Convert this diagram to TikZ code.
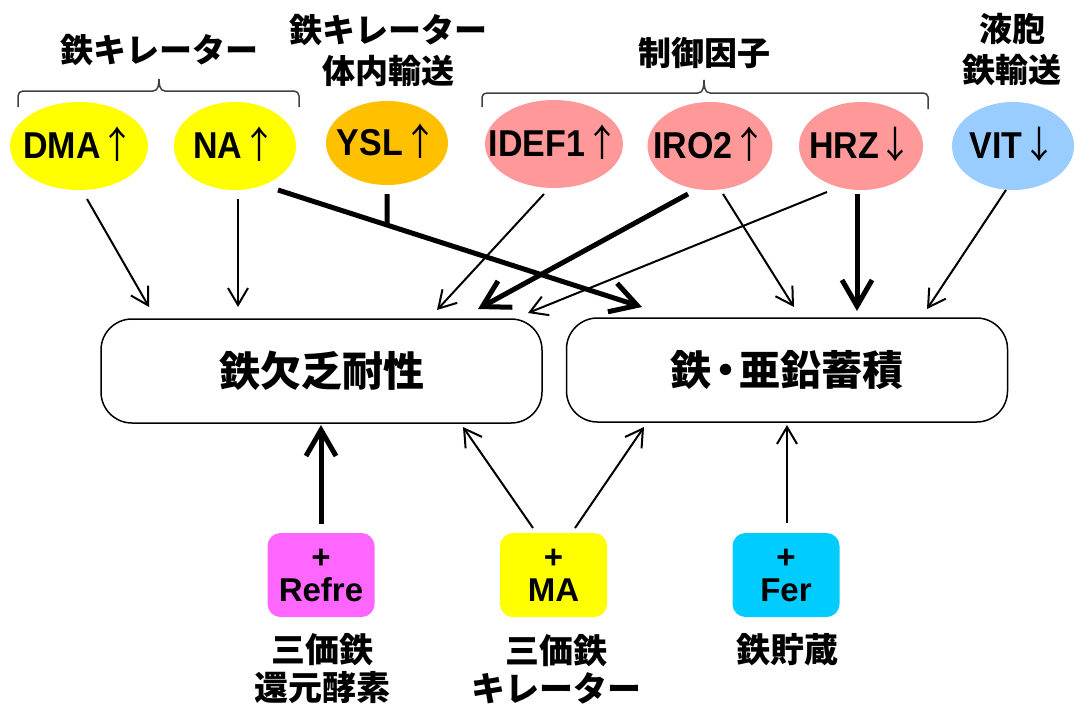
\documentclass[tikz,border=0pt]{standalone}
\usepackage{fontspec}
\setmainfont{Liberation Sans}
\newfontfamily\jp{Noto Sans CJK JP}
\usetikzlibrary{arrows.meta,shapes.geometric}
\newcommand\arrU{{\jp\mdseries ↑}}
\newcommand\arrD{{\jp\mdseries ↓}}
\newcommand\ctext[1]{\raisebox{-0.37em}[0pt][0pt]{\makebox[0pt]{\scalebox{1}[1.1]{#1}}}}
\begin{document}
\begin{tikzpicture}[x=1pt,y=-1pt,
 ell/.style={ellipse,inner sep=0pt,minimum height=88pt,font=\fontsize{34}{36}\selectfont\bfseries},
 lab/.style={font=\jp\bfseries\fontsize{33}{41}\selectfont,align=center,inner sep=0pt},
 blab/.style={font=\jp\bfseries\fontsize{34}{38}\selectfont,align=center,inner sep=0pt},
 mainbox/.style={draw,line width=1.5pt,rounded corners=31pt,minimum width=441pt,minimum height=104pt,inner sep=0pt,font=\jp\bfseries\fontsize{41}{44}\selectfont},
 subbox/.style={rounded corners=13pt,minimum width=107pt,minimum height=84pt,inner sep=0pt,align=center,font=\fontsize{33}{33}\selectfont\bfseries},
 thinarr/.style={line width=2pt,-{Straight Barb[length=17pt,width=20pt]}},
 thickarr/.style={line width=5pt,-{Straight Barb[length=26pt,width=30pt]}},
 brk/.style={line width=1.5pt,draw=black!75},
]
\useasboundingbox (0,0) rectangle (1075,709);
\definecolor{cyel}{HTML}{FFFF00}
\definecolor{corg}{HTML}{FFC000}
\definecolor{cpink}{HTML}{FF9999}
\definecolor{cblue}{HTML}{99CCFF}
\definecolor{cmag}{HTML}{FF66FF}
\definecolor{ccyan}{HTML}{00CCFF}

% top labels
\node[lab] (l1) at (159,50) {鉄キレーター};
\node[lab] (l2) at (388,50) {鉄キレーター\\体内輸送};
\node[lab] (l3) at (704,53) {制御因子};
\node[lab] (l4) at (1012,50) {液胞\\鉄輸送};

% brackets
\draw[brk] (18,107) -- (18,96) to[out=90,in=180] (23,91) -- (153,91) to[out=0,in=-90] (159,79) to[out=-90,in=180] (165,91) -- (294,91) to[out=0,in=90] (299,96) -- (299,107);
\draw[brk] (482,107) -- (482,97) to[out=90,in=180] (487,93) -- (698,93) to[out=0,in=-90] (704,80) to[out=-90,in=180] (710,93) -- (923,93) to[out=0,in=90] (928,97) -- (928,109);

% ellipses
\node[ell,fill=cyel,minimum width=138pt] (dma) at (79,146) {\ctext{DMA\arrU}};
\node[ell,fill=cyel,minimum width=122pt] (na) at (235,146) {\ctext{NA\arrU}};
\node[ell,fill=corg,minimum width=122pt,minimum height=84pt] (ysl) at (387,143) {\ctext{YSL\arrU}};
\node[ell,fill=cpink,minimum width=138pt] (idef) at (554,144) {\ctext{IDEF1\arrU}};
\node[ell,fill=cpink,minimum width=125pt] (iro) at (710,146) {\ctext{IRO2\arrU}};
\node[ell,fill=cpink,minimum width=124pt] (hrz) at (861,146) {\ctext{HRZ\arrD}};
\node[ell,fill=cblue,minimum width=122pt] (vit) at (1013,146) {\ctext{VIT\arrD}};

% main boxes
\node[mainbox] (lb) at (321.5,371) {鉄欠乏耐性};
\node[mainbox] (rb) at (787,370) {鉄\kern-0.15em・\kern-0.15em亜鉛蓄積};

% bottom boxes
\node[subbox,fill=cmag] (refre) at (321,575) {+\\Refre};
\node[subbox,fill=cyel] (ma) at (553.5,575) {+\\MA};
\node[subbox,fill=ccyan] (fer) at (786,575) {+\\Fer};
\node[blab] (t1) at (322,669) {三価鉄\\還元酵素};
\node[blab] (t2) at (556,669) {三価鉄\\キレーター};
\node[blab] (t3) at (787,650) {鉄貯蔵};

% arrows from top
\draw[thinarr] ([shift={(8,53)}]dma.center) -- ([shift={(-172.5,-64)}]lb.center);
\draw[thinarr] ([shift={(3,53)}]na.center) -- ([shift={(-83.5,-64)}]lb.center);
\draw[thickarr] ([shift={(43,44)}]na.center) -- coordinate[pos=0.2995] (hit) ([shift={(-145,-63)}]rb.center);
\draw[line width=5pt] ([shift={(0,51)}]ysl.center) -- (hit);
\draw[thinarr] ([shift={(-10,50)}]idef.center) -- ([shift={(115.5,-61)}]lb.center);
\draw[thickarr] ([shift={(-22,48)}]iro.center) -- ([shift={(156.5,-62)}]lb.center);
\draw[thinarr] ([shift={(-34,46)}]hrz.center) -- ([shift={(206.5,-58)}]lb.center);
\draw[thinarr] ([shift={(13,48)}]iro.center) -- ([shift={(7,-63)}]rb.center);
\draw[thickarr] ([shift={(-4,48)}]hrz.center) -- ([shift={(70,-59)}]rb.center);
\draw[thinarr] ([shift={(-7,44)}]vit.center) -- ([shift={(140,-61)}]rb.center);

% arrows from bottom
\draw[thickarr] ([shift={(0,-51)}]refre.center) -- ([shift={(-0.5,54)}]lb.center);
\draw[thinarr] ([shift={(-20.5,-47)}]ma.center) -- ([shift={(141.5,56)}]lb.center);
\draw[thinarr] ([shift={(21.5,-47)}]ma.center) -- ([shift={(-143,57)}]rb.center);
\draw[thinarr] ([shift={(1,-52)}]fer.center) -- ([shift={(0,55)}]rb.center);
\end{tikzpicture}
\end{document}
